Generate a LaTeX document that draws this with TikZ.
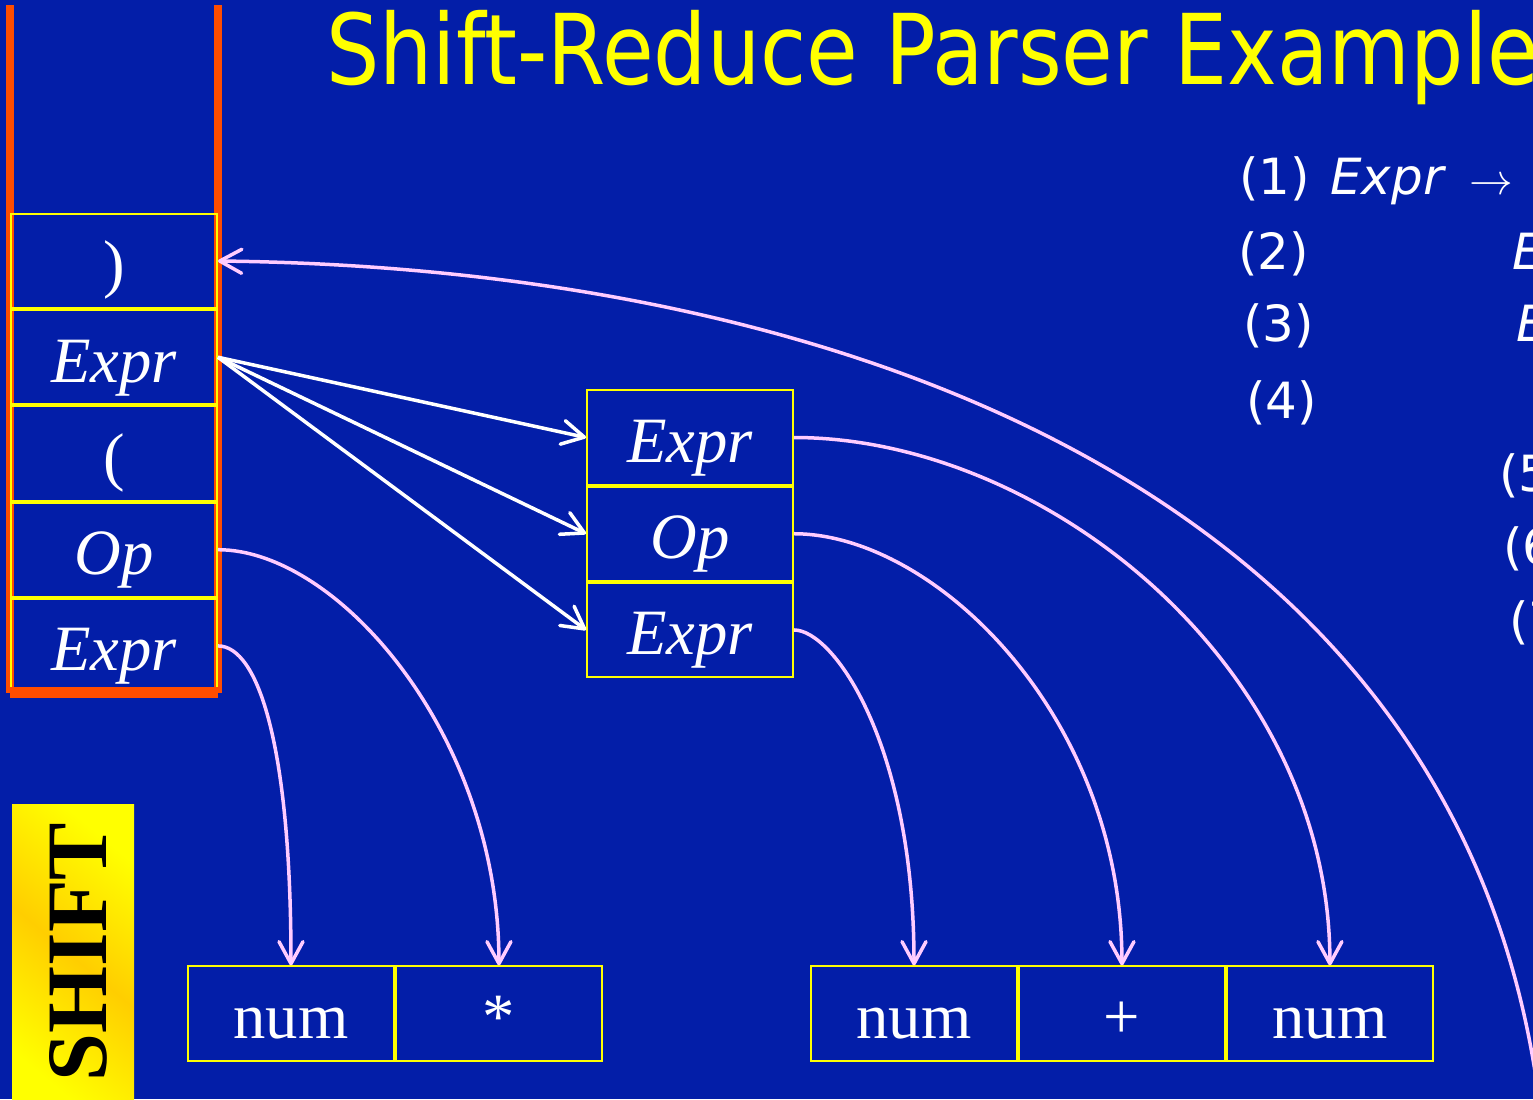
\documentclass[tikz,border=0pt]{standalone}
\usepackage{fontspec}
\setmainfont{Liberation Serif}
\newfontfamily\slidefont{DejaVu Sans}
\usetikzlibrary{arrows.meta, positioning}
\definecolor{SlideBlue}{RGB}{3, 30, 168}
\definecolor{StackOrange}{RGB}{255, 77, 0}
\definecolor{CellYellow}{RGB}{255, 255, 0}
\definecolor{LinkPink}{RGB}{255, 204, 255}
\definecolor{ShiftGold}{RGB}{255, 206, 0}

\tikzset{
  cell/.style={draw=CellYellow, line width=0.04cm, minimum width=4.12cm, minimum height=1.885cm,
               inner sep=0pt, text=white, font=\fontsize{36.8}{40}\selectfont,
               text height=34pt, text depth=5.6pt},
  pushlink/.style={draw=white, line width=0.07cm, -{Straight Barb[round, length=0.44cm, width=0.48cm]}},
  tokenlink/.style={draw=LinkPink, line width=0.07cm, -{Straight Barb[round, length=0.44cm, width=0.48cm]}},
  rulenum/.style={anchor=base west, inner sep=0pt, text=white, font=\slidefont\fontsize{28.4}{30}\selectfont},
}

\begin{document}
\begin{tikzpicture}[x=0.02cm, y=-0.02cm]
  \useasboundingbox (0,0) rectangle (1533,1099);
  \clip (0,0) rectangle (1533,1099);
  \fill[SlideBlue] (0,0) rectangle (1533,1099);

  % title
  \node[anchor=base west, inner sep=0pt, xscale=0.86, text=CellYellow,
        font=\slidefont\fontsize{55.6}{60}\selectfont] (title) at (326,84) {Shift-Reduce Parser Example};

  % grammar (cut off at the right edge)
  \node[rulenum] (r1) at (1239,194) {(1)};
  \node[rulenum] (r1lhs) at (1330,194) {\itshape Expr};
  \node[rulenum] (r1arrow) at (1469,194) {$\rightarrow$};
  \node[rulenum] (r2) at (1238,269) {(2)};
  \node[rulenum] (r2rhs) at (1512,269) {\itshape Expr};
  \node[rulenum] (r3) at (1243,341) {(3)};
  \node[rulenum] (r3rhs) at (1516,341) {\itshape Expr};
  \node[rulenum] (r4) at (1246,418) {(4)};
  \node[rulenum] (r5) at (1499,491) {(5)};
  \node[rulenum] (r6) at (1503,564) {(6)};
  \node[rulenum] (r7) at (1509,638) {(7)};

  % stack walls
  \draw[StackOrange, line width=0.16cm] (10,5) -- (10,693);
  \draw[StackOrange, line width=0.16cm] (218,5) -- (218,693);

  % stack
  \node[cell] (sclose) at (114,261) {)};
  \node[cell, below=0pt of sclose] (sexpr) {\itshape Expr};
  \node[cell, below=0pt of sexpr] (sopen) {(};
  \node[cell, below=0pt of sopen] (sop) {\itshape Op};
  \node[cell, below=0pt of sop] (sexprb) {\itshape Expr};
  \fill[StackOrange] (10,687) rectangle (218,698);

  % handle
  \node[cell] (hexpra) at (690,437.5) {\itshape Expr};
  \node[cell, below=0pt of hexpra] (hop) {\itshape Op};
  \node[cell, below=0pt of hop] (hexprb) {\itshape Expr};

  % input
  \node[cell] (numa) at (291,1013.5) {num};
  \node[cell, right=0pt of numa] (star) {*};
  \node[cell] (numb) at (914,1013.5) {num};
  \node[cell, right=0pt of numb] (plus) {+};
  \node[cell, right=0pt of plus] (numc) {num};

  % shift label
  \shade[top color=CellYellow, bottom color=CellYellow, middle color=ShiftGold, shading angle=-40]
    (12,804) rectangle (134,1110);
  \node[rotate=90, inner sep=0pt, text=black, font=\bfseries\fontsize{49}{50}\selectfont] (shift) at (78.5,952) {SHIFT};

  \draw[pushlink] (sexpr.east) -- (hexpra.west);
  \draw[pushlink] (sexpr.east) -- (hop.west);
  \draw[pushlink] (sexpr.east) -- (hexprb.west);

  \draw[tokenlink] (sexprb.east) .. controls +(40,0) and +(0,-220) .. (numa.north);
  \draw[tokenlink] (sop.east) .. controls +(120,0) and +(0,-230) .. (star.north);
  \draw[tokenlink] (hexprb.east) .. controls +(40,0) and +(0,-220) .. (numb.north);
  \draw[tokenlink] (hop.east) .. controls +(140,0) and +(0,-250) .. (plus.north);
  \draw[tokenlink] (hexpra.east) .. controls +(250,0) and +(0,-300) .. (numc.north);
  \coordinate (closein) at (1545,1160);
  \draw[tokenlink] (closein) .. controls (1500,500) and (850,268) .. (sclose.east);
\end{tikzpicture}
\end{document}
